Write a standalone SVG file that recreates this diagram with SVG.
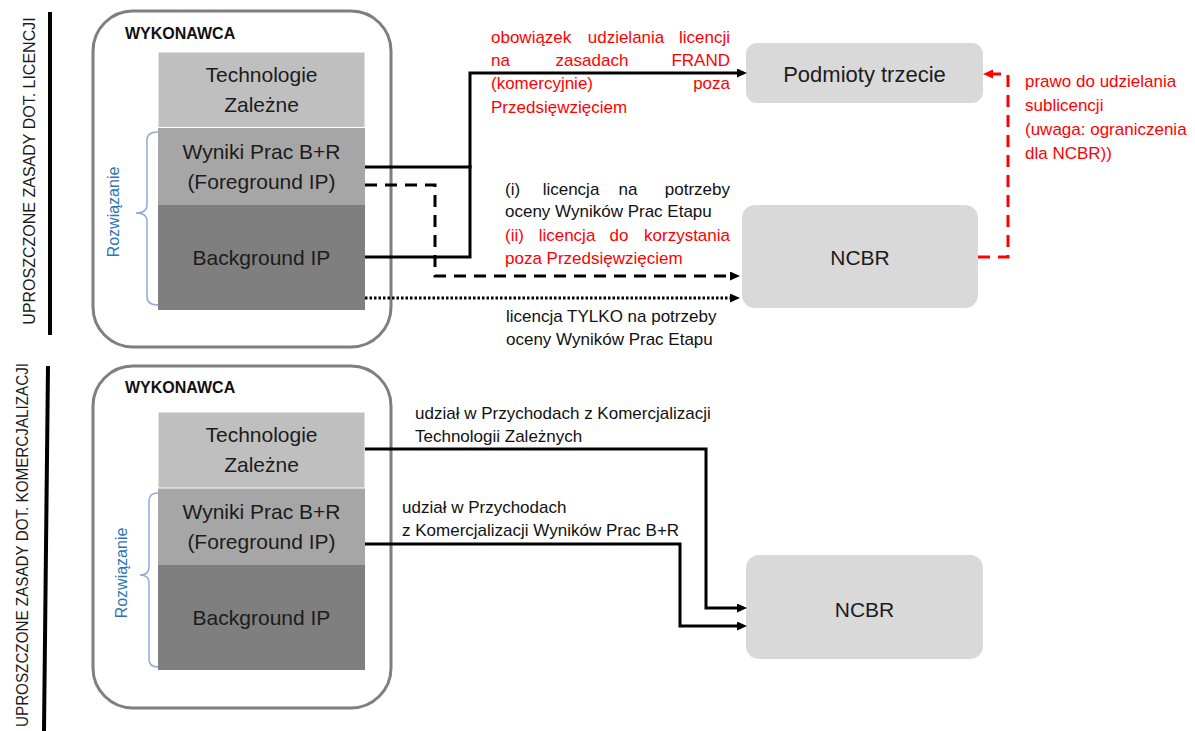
<svg xmlns="http://www.w3.org/2000/svg" width="1195" height="731" viewBox="0 0 1195 731">
<style>
text{font-family:"Liberation Sans",Arial,sans-serif}
.sec{font-size:16px;fill:#1a1a1a}
.outer{fill:#fff;stroke:#7f7f7f;stroke-width:3}
.hdr{font-size:16px;font-weight:bold;fill:#111}
.nt{font-size:21px;fill:#1c1c1c;text-anchor:middle}
.t1{fill:#bfbfbf;stroke:#fff;stroke-width:1}
.t2{fill:#a6a6a6}
.t3{fill:#7f7f7f}
.rb{fill:#d9d9d9}
.brace{fill:none;stroke:#8faadc;stroke-width:1.5}
.roz{font-size:16px;fill:#2e75b6;text-anchor:middle}
.c{fill:none;stroke:#000;stroke-width:3}
.dash{stroke-dasharray:12 8}
.dot{stroke-dasharray:2.5 2}
.red{fill:none;stroke:#ff0000;stroke-width:3;stroke-dasharray:12 8}
.lb{font-size:17px;fill:#111}
.lr{font-size:17px;fill:#ff0000}
.e{text-anchor:end}
.m{text-anchor:middle}
</style>
<defs>
<marker id="ah" markerUnits="userSpaceOnUse" markerWidth="12" markerHeight="10" refX="2" refY="4.5" orient="auto"><path d="M0,0 L10,4.5 L0,9 z" fill="#000"/></marker>
<marker id="ahr" markerUnits="userSpaceOnUse" markerWidth="12" markerHeight="10" refX="2" refY="4.5" orient="auto"><path d="M0,0 L10,4.5 L0,9 z" fill="#ff0000"/></marker>
</defs>

<g id="section-licencje">
<line x1="50" y1="12" x2="50" y2="335" stroke="#000" stroke-width="4"/>
<text class="sec m" transform="translate(35,171) rotate(-90)">UPROSZCZONE ZASADY DOT. LICENCJI</text>
</g>
<g id="section-komercjalizacja">
<line x1="48" y1="366" x2="44" y2="731" stroke="#000" stroke-width="4"/>
<text class="sec e" transform="translate(28,363) rotate(-90)" textLength="364" lengthAdjust="spacingAndGlyphs">UPROSZCZONE ZASADY DOT. KOMERCJALIZACJI</text>
</g>

<g id="wykonawca-1">
<rect class="outer" x="93" y="11" width="298" height="336" rx="40"/>
<text class="hdr" x="125" y="39">WYKONAWCA</text>
</g>
<g id="tech-1">
<rect class="t1" x="158" y="52" width="207" height="75.5"/>
<text class="nt" x="261.5" y="82">Technologie</text>
<text class="nt" x="261.5" y="112">Zależne</text>
</g>
<g id="wyniki-1">
<rect class="t2" x="158" y="128" width="207" height="77"/>
<text class="nt" x="261.5" y="159">Wyniki Prac B+R</text>
<text class="nt" x="261.5" y="189">(Foreground IP)</text>
</g>
<g id="background-1">
<rect class="t3" x="158" y="205" width="207" height="105"/>
<text class="nt" x="261.5" y="265">Background IP</text>
</g>
<g id="rozwiazanie-1">
<path class="brace" d="M158,132 Q147,132 147,140 V205 Q147,213 136,213 Q147,213 147,221 V297 Q147,305 158,305"/>
<text class="roz" transform="translate(119,212) rotate(-90)">Rozwiązanie</text>
</g>

<g id="podmioty">
<rect class="rb" x="746" y="43" width="237" height="60" rx="11"/>
<text class="nt" x="864.5" y="82" style="font-size:22px">Podmioty trzecie</text>
</g>
<g id="ncbr-1">
<rect class="rb" x="742" y="205" width="236" height="103" rx="13"/>
<text class="nt" x="860" y="265">NCBR</text>
</g>

<g id="wykonawca-2">
<rect class="outer" x="93" y="366" width="298" height="342" rx="40"/>
<text class="hdr" x="125" y="393">WYKONAWCA</text>
</g>
<g id="tech-2">
<rect class="t1" x="158" y="412" width="207" height="76"/>
<text class="nt" x="261.5" y="442">Technologie</text>
<text class="nt" x="261.5" y="472">Zależne</text>
</g>
<g id="wyniki-2">
<rect class="t2" x="158" y="488.5" width="207" height="76.5"/>
<text class="nt" x="261.5" y="519">Wyniki Prac B+R</text>
<text class="nt" x="261.5" y="549">(Foreground IP)</text>
</g>
<g id="background-2">
<rect class="t3" x="158" y="565" width="207" height="105"/>
<text class="nt" x="261.5" y="625">Background IP</text>
</g>
<g id="rozwiazanie-2">
<path class="brace" d="M158,493 Q149,493 149,501 V567 Q149,575 140,575 Q149,575 149,583 V659 Q149,667 158,667"/>
<text class="roz" transform="translate(127,573) rotate(-90)">Rozwiązanie</text>
</g>
<g id="ncbr-2">
<rect class="rb" x="746" y="555" width="237" height="104" rx="13"/>
<text class="nt" x="864.5" y="617">NCBR</text>
</g>

<g id="connectors">
<path class="c" d="M365,167 H470 V73 H739" marker-end="url(#ah)"/>
<path class="c" d="M365,257 H470 V165"/>
<path class="c dash" d="M365,185 H435 V276 H732" marker-end="url(#ah)"/>
<path class="c dot" d="M365,298 H732" marker-end="url(#ah)"/>
<path class="red" d="M978,257 H1008 V74 H991" marker-end="url(#ahr)"/>
<path class="c" d="M365,449 H706 V608 H739" marker-end="url(#ah)"/>
<path class="c" d="M365,544 H680 V626 H739" marker-end="url(#ah)"/>
</g>

<g id="labels">
<text class="lr" x="491" y="43">obowiązek</text>
<text class="lr m" x="626" y="43">udzielania</text>
<text class="lr e" x="730" y="43">licencji</text>
<text class="lr" x="491" y="66">na</text>
<text class="lr m" x="592" y="66">zasadach</text>
<text class="lr e" x="730" y="66">FRAND</text>
<text class="lr" x="491" y="89">(komercyjnie)</text>
<text class="lr e" x="730" y="89">poza</text>
<text class="lr" x="491" y="113">Przedsięwzięciem</text>

<text class="lb" x="505" y="195">(i)</text>
<text class="lb m" x="571" y="195">licencja</text>
<text class="lb m" x="628" y="195">na</text>
<text class="lb e" x="730" y="195">potrzeby</text>
<text class="lb" x="505" y="217">oceny Wyników Prac Etapu</text>
<text class="lr" x="505" y="241">(ii)</text>
<text class="lr m" x="567" y="241">licencja</text>
<text class="lr m" x="619" y="241">do</text>
<text class="lr e" x="730" y="241">korzystania</text>
<text class="lr" x="505" y="264">poza Przedsięwzięciem</text>

<text class="lb" x="506" y="322">licencja TYLKO na potrzeby</text>
<text class="lb" x="506" y="345">oceny Wyników Prac Etapu</text>

<text class="lr" x="1025" y="87">prawo do udzielania</text>
<text class="lr" x="1025" y="111">sublicencji</text>
<text class="lr" x="1025" y="135">(uwaga: ograniczenia</text>
<text class="lr" x="1025" y="159">dla NCBR))</text>

<text class="lb" x="415" y="419">udział w Przychodach z Komercjalizacji</text>
<text class="lb" x="415" y="442">Technologii Zależnych</text>
<text class="lb" x="402" y="513">udział w Przychodach</text>
<text class="lb" x="402" y="536">z Komercjalizacji Wyników Prac B+R</text>
</g>
</svg>
